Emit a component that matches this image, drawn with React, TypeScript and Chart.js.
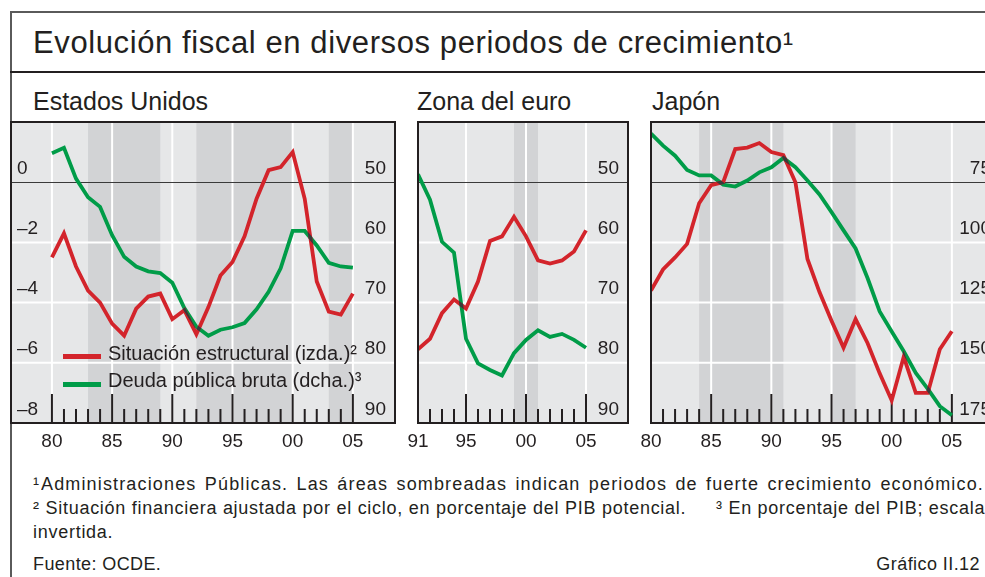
import React, { useEffect, useRef } from 'react';
import { Chart, registerables } from 'chart.js';

Chart.register(...registerables);

const FONT = "'Liberation Sans', Arial, Helvetica, sans-serif";
const RED = '#d3242b';
const GREEN = '#009c48';
const CROSS = '#3b3b3b';
const BG = '#e6e7e8';
const SHADE = '#d2d3d5';
const INK = '#231f20';
const LW = 3.8;

// ---------- data ----------
const usYears = [1980, 1981, 1982, 1983, 1984, 1985, 1986, 1987, 1988, 1989, 1990, 1991, 1992, 1993, 1994, 1995, 1996, 1997, 1998, 1999, 2000, 2001, 2002, 2003, 2004, 2005];
const usBalance = [-2.5, -1.7, -2.8, -3.6, -4.0, -4.7, -5.1, -4.2, -3.8, -3.7, -4.55, -4.25, -5.05, -4.15, -3.1, -2.65, -1.8, -0.55, 0.4, 0.5, 1.0, -0.55, -3.3, -4.3, -4.4, -3.7];
const usDebt = [45.2, 44.3, 49.4, 52.5, 54.1, 58.8, 62.4, 64.0, 64.8, 65.1, 66.7, 70.9, 74.0, 75.5, 74.5, 74.1, 73.4, 71.1, 68.2, 64.3, 58.1, 58.1, 60.5, 63.4, 64.0, 64.2];
const usBands = [[1983, 1989], [1992, 2000], [2003, 2005]];

const euYears = [1991, 1992, 1993, 1994, 1995, 1996, 1997, 1998, 1999, 2000, 2001, 2002, 2003, 2004, 2005];
const euBalance = [-5.55, -5.2, -4.35, -3.9, -4.2, -3.3, -1.95, -1.8, -1.15, -1.8, -2.6, -2.7, -2.6, -2.3, -1.6];
const euDebt = [48.7, 52.9, 59.9, 61.7, 76.0, 80.1, 81.2, 82.1, 78.4, 76.2, 74.6, 75.7, 75.2, 76.2, 77.5];
const euBands = [[1999, 2001]];

const jpYears = [1980, 1981, 1982, 1983, 1984, 1985, 1986, 1987, 1988, 1989, 1990, 1991, 1992, 1993, 1994, 1995, 1996, 1997, 1998, 1999, 2000, 2001, 2002, 2003, 2004, 2005];
const jpBalance = [-3.6, -2.9, -2.5, -2.05, -0.7, -0.1, 0.0, 1.1, 1.15, 1.3, 1.0, 0.9, 0.0, -2.55, -3.65, -4.6, -5.5, -4.55, -5.35, -6.35, -7.25, -5.8, -7.0, -7.0, -5.55, -4.95];
const jpDebt = [54.8, 59.8, 64.0, 69.9, 72.2, 72.2, 76.0, 76.8, 74.3, 70.9, 68.8, 64.9, 68.8, 74.3, 80.1, 87.4, 95.0, 102.5, 114.9, 128.7, 137.0, 145.2, 154.2, 160.8, 168.0, 171.8];
const jpBands = [[1984, 1991], [1995, 1997]];

// ---------- ticks ----------
const leftTicks = [-8, -6, -4, -2, 0];
const leftTickLabels = ['–8', '–6', '–4', '–2', '0'];
const usEuRightTicks = [50, 60, 70, 80, 90];
const jpRightTicks = [75, 100, 125, 150, 175];
const xTicks80 = [1980, 1985, 1990, 1995, 2000, 2005];
const xTickLabels80 = ['80', '85', '90', '95', '00', '05'];
const xTicks91 = [1991, 1995, 2000, 2005];
const xTickLabels91 = ['91', '95', '00', '05'];

const PLOT_TOP = 122;
const PLOT_H = 301;
const PAD_L = 16, PAD_R = 16, PAD_T = 4, PAD_B = 36;

type PanelCfg = {
  years: number[];
  balance: number[];
  debt: number[];
  bands: number[][];
  xMin: number;
  xMax: number;
  rMin: number;
  rMax: number;
  rTicks: number[];
  xTicks: number[];
  xLabels: string[];
  showLeft: boolean;
  left: number;
  width: number;
};

const panels: PanelCfg[] = [
  { years: usYears, balance: usBalance, debt: usDebt, bands: usBands, xMin: 1976.6, xMax: 2008.5, rMin: 40, rMax: 90, rTicks: usEuRightTicks, xTicks: xTicks80, xLabels: xTickLabels80, showLeft: true, left: 11, width: 384 },
  { years: euYears, balance: euBalance, debt: euDebt, bands: euBands, xMin: 1991, xMax: 2008.5, rMin: 40, rMax: 90, rTicks: usEuRightTicks, xTicks: xTicks91, xLabels: xTickLabels91, showLeft: false, left: 418, width: 210 },
  { years: jpYears, balance: jpBalance, debt: jpDebt, bands: jpBands, xMin: 1980, xMax: 2009.0, rMin: 50, rMax: 175, rTicks: jpRightTicks, xTicks: xTicks80, xLabels: xTickLabels80, showLeft: false, left: 651, width: 349 },
];

function PanelChart({ cfg }: { cfg: PanelCfg }) {
  const ref = useRef<HTMLCanvasElement>(null);
  useEffect(() => {
    const canvas = ref.current!;
    const plugin = {
      id: 'panelDecor',
      beforeDatasetsDraw(chart: any) {
        const { ctx, chartArea: a, scales } = chart;
        const x = scales.x, yL = scales.yL, yR = scales.yR;
        ctx.save();
        ctx.fillStyle = BG;
        ctx.fillRect(a.left, a.top, a.right - a.left, a.bottom - a.top);
        ctx.fillStyle = SHADE;
        for (const [s, e] of cfg.bands) {
          const x1 = x.getPixelForValue(s), x2 = x.getPixelForValue(e);
          ctx.fillRect(x1, a.top, x2 - x1, a.bottom - a.top);
        }
        ctx.strokeStyle = '#ffffff';
        ctx.lineWidth = 2;
        for (const v of cfg.xTicks) {
          const px = x.getPixelForValue(v);
          ctx.beginPath(); ctx.moveTo(px, a.top); ctx.lineTo(px, a.bottom); ctx.stroke();
        }
        for (const v of leftTicks) {
          if (v === 0) continue;
          const py = yL.getPixelForValue(v);
          ctx.beginPath(); ctx.moveTo(a.left, py); ctx.lineTo(a.right, py); ctx.stroke();
        }
        const pz = Math.round(yL.getPixelForValue(0)) + 0.5;
        ctx.strokeStyle = '#3a3a3a';
        ctx.lineWidth = 1;
        ctx.beginPath(); ctx.moveTo(a.left, pz); ctx.lineTo(a.right, pz); ctx.stroke();
        // tick marks
        ctx.strokeStyle = INK;
        ctx.lineWidth = 2;
        const first = cfg.years[0], last = cfg.years[cfg.years.length - 1];
        for (let yr = first; yr <= last; yr++) {
          const px = x.getPixelForValue(yr);
          const len = cfg.xTicks.includes(yr) ? 29 : 14;
          ctx.beginPath(); ctx.moveTo(px, a.bottom); ctx.lineTo(px, a.bottom - len); ctx.stroke();
        }
        // labels
        ctx.fillStyle = INK;
        ctx.font = `19px ${FONT}`;
        ctx.textBaseline = 'alphabetic';
        if (cfg.showLeft) {
          ctx.textAlign = 'left';
          leftTicks.forEach((v, i) => {
            ctx.fillText(leftTickLabels[i], a.left + 6, yL.getPixelForValue(v) - 8.5);
          });
        }
        ctx.textAlign = 'right';
        cfg.rTicks.forEach((v) => {
          ctx.fillText(String(v), a.right - 9, yR.getPixelForValue(v) - 8.5);
        });
        ctx.textAlign = 'center';
        cfg.xTicks.forEach((v, i) => {
          ctx.fillText(cfg.xLabels[i], x.getPixelForValue(v), a.bottom + 24);
        });
        ctx.restore();
      },
      afterDatasetsDraw(chart: any) {
        const { ctx, chartArea: a } = chart;
        const mR = chart.getDatasetMeta(0).data;
        const mG = chart.getDatasetMeta(1).data;
        const off = document.createElement('canvas');
        off.width = chart.canvas.width;
        off.height = chart.canvas.height;
        const o = off.getContext('2d')!;
        const trace = (pts: any[]) => {
          o.beginPath();
          pts.forEach((p, i) => (i ? o.lineTo(p.x, p.y) : o.moveTo(p.x, p.y)));
        };
        o.lineWidth = LW;
        o.lineJoin = 'miter';
        trace(mG); o.strokeStyle = '#000'; o.stroke();
        o.globalCompositeOperation = 'source-in';
        trace(mR); o.strokeStyle = CROSS; o.stroke();
        ctx.save();
        ctx.beginPath(); ctx.rect(a.left, a.top, a.right - a.left, a.bottom - a.top); ctx.clip();
        ctx.drawImage(off, 0, 0);
        ctx.restore();
        ctx.save();
        ctx.strokeStyle = INK;
        ctx.lineWidth = 2;
        ctx.strokeRect(a.left, a.top, a.right - a.left, a.bottom - a.top);
        ctx.restore();
      },
    };
    const chart = new Chart(canvas, {
      type: 'line',
      data: {
        datasets: [
          {
            label: 'Situación estructural',
            data: cfg.years.map((y, i) => ({ x: y, y: cfg.balance[i] })),
            yAxisID: 'yL',
            borderColor: RED,
            borderWidth: LW,
            pointRadius: 0,
            tension: 0,
            fill: false,
            borderJoinStyle: 'miter',
          },
          {
            label: 'Deuda pública bruta',
            data: cfg.years.map((y, i) => ({ x: y, y: cfg.debt[i] })),
            yAxisID: 'yR',
            borderColor: GREEN,
            borderWidth: LW,
            pointRadius: 0,
            tension: 0,
            fill: false,
            borderJoinStyle: 'miter',
          },
        ],
      },
      options: {
        responsive: false,
        animation: false,
        events: [],
        layout: { padding: { left: PAD_L, right: PAD_R, top: PAD_T, bottom: PAD_B } },
        plugins: { legend: { display: false }, tooltip: { enabled: false }, title: { display: false } },
        scales: {
          x: { type: 'linear', min: cfg.xMin, max: cfg.xMax, display: false },
          yL: { type: 'linear', position: 'left', min: -8, max: 2, display: false },
          yR: { type: 'linear', position: 'right', min: cfg.rMin, max: cfg.rMax, reverse: true, display: false },
        },
      } as any,
      plugins: [plugin],
    });
    return () => chart.destroy();
  }, [cfg]);
  const w = cfg.width + PAD_L + PAD_R;
  const h = PLOT_H + PAD_T + PAD_B;
  return (
    <canvas
      ref={ref}
      width={w}
      height={h}
      style={{ position: 'absolute', left: cfg.left - PAD_L, top: PLOT_TOP - PAD_T, width: w, height: h, display: 'block' }}
    />
  );
}

const txt = (left: number, top: number, size: number, extra: React.CSSProperties = {}): React.CSSProperties => ({
  position: 'absolute',
  left,
  top,
  fontSize: size,
  lineHeight: `${size}px`,
  whiteSpace: 'nowrap',
  color: INK,
  fontFamily: FONT,
  ...extra,
});

export default function App() {
  return (
    <div style={{ position: 'absolute', left: 0, top: 0, width: 985, height: 577, overflow: 'hidden', background: '#fff', fontFamily: FONT }}>
      <div style={{ position: 'absolute', left: 10, top: 11, width: 1000, height: 1.6, background: '#5a5a5a' }} />
      <div style={{ position: 'absolute', left: 10, top: 11, width: 1.8, height: 600, background: '#5a5a5a' }} />
      <div style={{ position: 'absolute', left: 10, top: 71, width: 1000, height: 2, background: INK }} />
      <div style={txt(33, 27, 31, { letterSpacing: 0.6 })}>Evolución fiscal en diversos periodos de crecimiento¹</div>
      <div style={txt(33, 89, 25)}>Estados Unidos</div>
      <div style={txt(417, 89, 25)}>Zona del euro</div>
      <div style={txt(652, 89, 25)}>Japón</div>
      {panels.map((p, i) => (
        <PanelChart key={i} cfg={p} />
      ))}
      <div style={{ position: 'absolute', left: 63, top: 354, width: 38, height: 5, background: RED }} />
      <div style={{ position: 'absolute', left: 63, top: 381.5, width: 38, height: 5, background: GREEN }} />
      <div style={txt(108, 343, 20)}>Situación estructural (izda.)²</div>
      <div style={txt(108, 370, 20)}>Deuda pública bruta (dcha.)³</div>
      <div style={txt(33, 475, 18)}>¹</div>
      <div style={txt(41, 475, 18, { letterSpacing: 1.15, width: 943, whiteSpace: 'normal', textAlign: 'justify', textAlignLast: 'justify', height: 18, overflow: 'hidden' })}>
        Administraciones Públicas. Las áreas sombreadas indican periodos de fuerte crecimiento económico.
      </div>
      <div style={txt(33, 499, 18, { letterSpacing: 0.73 })}>² Situación financiera ajustada por el ciclo, en porcentaje del PIB potencial.</div>
      <div style={txt(716, 499, 18, { letterSpacing: 0.71 })}>³ En porcentaje del PIB; escala</div>
      <div style={txt(33, 523, 18, { letterSpacing: 0.73 })}>invertida.</div>
      <div style={txt(33, 555, 18, { letterSpacing: 0.4 })}>Fuente: OCDE.</div>
      <div style={txt(0, 555, 18, { left: undefined, right: 5, letterSpacing: 0.43 })}>Gráfico II.12</div>
    </div>
  );
}
